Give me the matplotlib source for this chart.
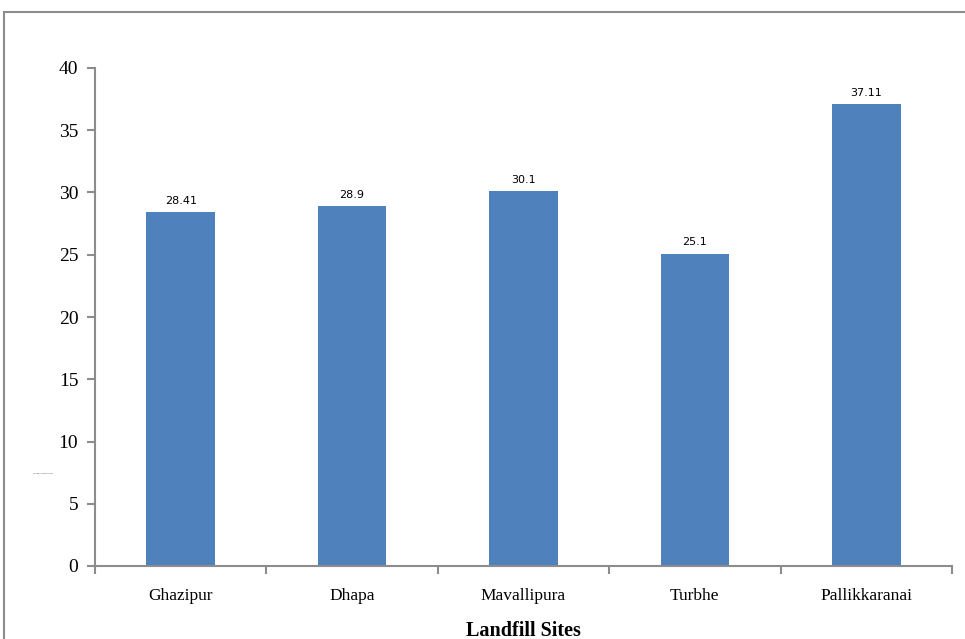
import matplotlib
matplotlib.use("Agg")
import matplotlib.pyplot as plt
from matplotlib.patches import Rectangle

sites = ["Ghazipur", "Dhapa", "Mavallipura", "Turbhe", "Pallikkaranai"]
values = [28.41, 28.9, 30.1, 25.1, 37.11]
value_labels = ["28.41", "28.9", "30.1", "25.1", "37.11"]
yticks = [0, 5, 10, 15, 20, 25, 30, 35, 40]

fig = plt.figure(figsize=(9.65, 6.39), dpi=100)
fig.patch.set_facecolor("white")
fig.patches.append(Rectangle((4/965, -0.05), 1.0, 1 - 12/639 + 0.05, transform=fig.transFigure,
                             fill=False, edgecolor="#8c8c8c", linewidth=1.5, clip_on=False))

ax = fig.add_axes([95/965, 73/639, 857/965, 498/639])
x = list(range(len(sites)))
ax.bar(x, values, width=0.4, color="#4f81bd", zorder=2)
for xi, v, lab in zip(x, values, value_labels):
    ax.text(xi, v + 0.5, lab, ha="center", va="bottom", fontsize=8, family="DejaVu Sans")

ax.set_xlim(-0.5, len(sites) - 0.5)
ax.set_ylim(0, 40)
ax.set_yticks(yticks)
ax.set_yticklabels([str(t) for t in yticks], family="Liberation Serif", fontsize=14)
ax.set_xticks(x)
ax.set_xticklabels(sites, family="Liberation Serif", fontsize=12.5)
ax.set_xticks([i - 0.5 for i in range(len(sites) + 1)], minor=True)
ax.tick_params(axis="x", which="major", length=0, pad=16)
ax.tick_params(axis="x", which="minor", length=6, color="#8c8c8c", width=1.5, direction="out")
ax.tick_params(axis="y", length=6, color="#8c8c8c", width=1.5, direction="out", pad=6)
for s in ["top", "right"]:
    ax.spines[s].set_visible(False)
for s in ["left", "bottom"]:
    ax.spines[s].set_color("#8c8c8c")
    ax.spines[s].set_linewidth(1.5)
ax.set_xlabel("Landfill Sites", family="Liberation Serif", fontsize=14.5, fontweight="bold", labelpad=12)
fig.text(43/965, 1 - 473/639, "Landfill Height (m)", fontsize=1.5, ha="center", va="center", color="#444444")

fig.savefig("out.png", dpi=100)
